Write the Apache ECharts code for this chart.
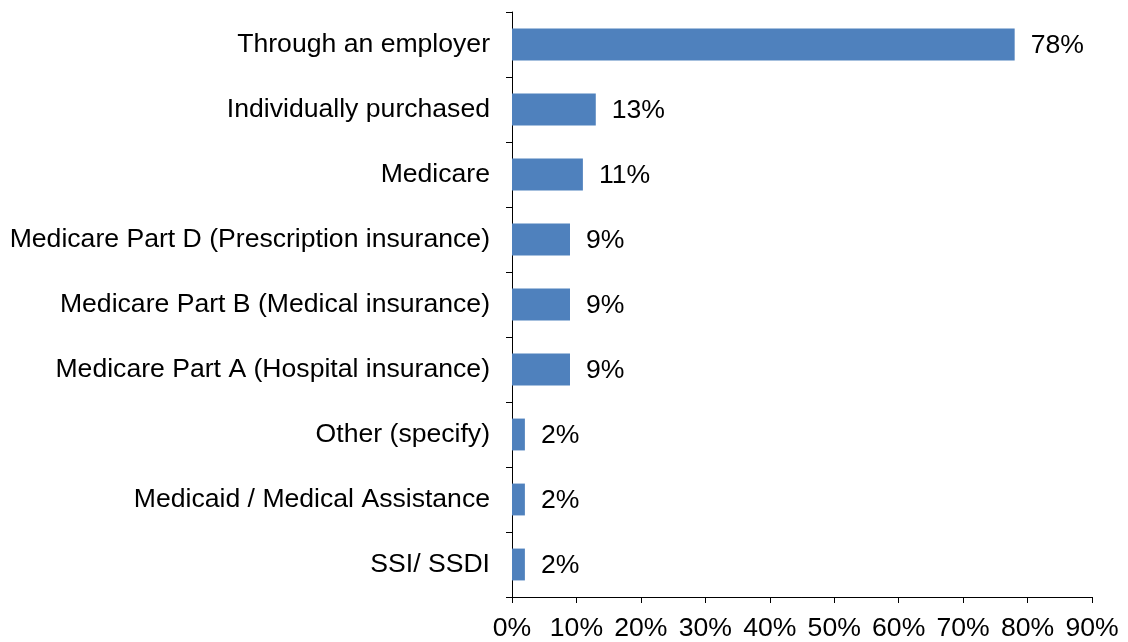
<!DOCTYPE html>
<html>
<head>
<meta charset="utf-8">
<script src="https://cdn.jsdelivr.net/npm/echarts@6/dist/echarts.min.js"></script>
<style>html,body{margin:0;padding:0;background:#fff;}#c{width:1128px;height:642px;}</style>
</head>
<body>
<div id="c"></div>
<script>
const categories = [
  "Through an employer",
  "Individually purchased",
  "Medicare",
  "Medicare Part D (Prescription insurance)",
  "Medicare Part B (Medical insurance)",
  "Medicare Part A (Hospital insurance)",
  "Other (specify)",
  "Medicaid / Medical Assistance",
  "SSI/ SSDI"
];
const values = [78, 13, 11, 9, 9, 9, 2, 2, 2];

const chart = echarts.init(document.getElementById('c'), null, {renderer: 'canvas'});
const font = 'Liberation Sans, Arial, sans-serif';
const fs = 26.6;
chart.setOption({
  animation: false,
  grid: {left: 512, right: 36, top: 12, bottom: 45, containLabel: false},
  xAxis: {
    type: 'value', min: 0, max: 90, interval: 10,
    axisLine: {show: true, lineStyle: {color: '#000', width: 1}},
    axisTick: {show: true, length: 6, lineStyle: {color: '#000'}},
    splitLine: {show: false},
    axisLabel: {formatter: '{value}%', color: '#000', fontSize: fs, fontFamily: font, margin: 18}
  },
  yAxis: {
    type: 'category', data: categories.slice().reverse(),
    axisLine: {show: true, lineStyle: {color: '#000', width: 1}},
    axisTick: {show: true, length: 6, lineStyle: {color: '#000'}},
    axisLabel: {color: '#000', fontSize: fs, fontFamily: font, margin: 22}
  },
  series: [{
    type: 'bar',
    data: values.slice().reverse(),
    barWidth: '49%',
    itemStyle: {color: '#4F81BD'},
    label: {show: true, position: 'right', distance: 16, offset: [0, 1], formatter: '{c}%', color: '#000', fontSize: fs, fontFamily: font}
  }]
});
</script>
</body>
</html>
